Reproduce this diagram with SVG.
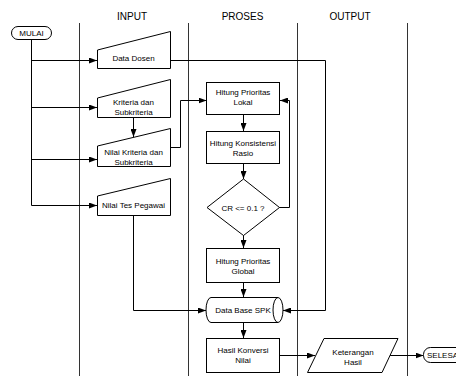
<svg xmlns="http://www.w3.org/2000/svg" width="456" height="376" viewBox="0 0 456 376">
<defs>
<marker id="arr" viewBox="0 0 8 6" refX="8" refY="3" markerWidth="8" markerHeight="6" markerUnits="userSpaceOnUse" orient="auto">
<path d="M0,0 L8,3 L0,6 Z" fill="#000"/>
</marker>
<style>
.s{fill:#fff;stroke:#000;stroke-width:1}
.t{font-family:"Liberation Sans",Arial,sans-serif;font-size:8px;fill:#000;text-anchor:middle}
.h{font-family:"Liberation Sans",Arial,sans-serif;font-size:10px;fill:#000;text-anchor:middle}
.l{fill:none;stroke:#000;stroke-width:1}
.a{fill:none;stroke:#000;stroke-width:1;marker-end:url(#arr)}
.lane{stroke:#333;stroke-width:1}
</style>
</defs>
<rect width="456" height="376" fill="#fff"/>
<g id="lanes">
<line class="lane" x1="79.5" y1="23" x2="79.5" y2="376"/>
<line class="lane" x1="188.5" y1="23" x2="188.5" y2="376"/>
<line class="lane" x1="297.5" y1="23" x2="297.5" y2="376"/>
<line class="lane" x1="407.5" y1="23" x2="407.5" y2="376"/>
<text class="h" x="132" y="19.5">INPUT</text>
<text class="h" x="242.5" y="19.5">PROSES</text>
<text class="h" x="350" y="19.5">OUTPUT</text>
</g>
<g id="connectors">
<path class="l" d="M31.5,39 V205.5"/>
<path class="a" d="M31.5,60.5 H97"/>
<path class="a" d="M31.5,107.5 H97"/>
<path class="a" d="M31.5,159.5 H97"/>
<path class="a" d="M31.5,205.5 H97"/>
<path class="a" d="M133.5,117 V137"/>
<path class="a" d="M170,147.5 H180.5 V100.5 H206.5"/>
<path class="a" d="M243.5,114 V131"/>
<path class="a" d="M243.5,163 V179"/>
<path class="a" d="M279,207.5 H289.5 V100.5 H280"/>
<path class="a" d="M243.5,235 V248"/>
<path class="a" d="M243.5,283 V297"/>
<path class="a" d="M243.5,322 V338"/>
<path class="a" d="M170,60.5 H325.5 V310.5 H283"/>
<path class="a" d="M133.5,215 V310.5 H206"/>
<path class="a" d="M280,355.5 H315"/>
<path class="a" d="M390,355.5 H423.5"/>
</g>
<g id="mulai">
<rect class="s" x="11.5" y="26.5" width="40" height="13" rx="6.5"/>
<text class="t" x="31.5" y="35.5">MULAI</text>
</g>
<g id="data-dosen">
<path class="s" d="M97.5,50 L170.5,31.5 V68.5 H97.5 Z"/>
<text class="t" x="133.5" y="61">Data Dosen</text>
</g>
<g id="kriteria">
<path class="s" d="M97.5,98 L170.5,79.5 V117.5 H97.5 Z"/>
<text class="t" x="133.5" y="105">Kriteria dan</text>
<text class="t" x="133.5" y="115">Subkriteria</text>
</g>
<g id="nilai-kriteria">
<path class="s" d="M97.5,146 L170.5,128.5 V166.5 H97.5 Z"/>
<text class="t" x="133.5" y="155">Nilai Kriteria dan</text>
<text class="t" x="133.5" y="165">Subkriteria</text>
</g>
<g id="nilai-tes">
<path class="s" d="M97.5,196 L170.5,178.5 V215.5 H97.5 Z"/>
<text class="t" x="133.5" y="208">Nilai Tes Pegawai</text>
</g>
<g id="prioritas-lokal">
<rect class="s" x="206.5" y="82.5" width="73" height="32"/>
<text class="t" x="243" y="95">Hitung Prioritas</text>
<text class="t" x="243" y="105">Lokal</text>
</g>
<g id="konsistensi">
<rect class="s" x="206.5" y="131.5" width="73" height="32"/>
<text class="t" x="243" y="146">Hitung Konsistensi</text>
<text class="t" x="243" y="156">Rasio</text>
</g>
<g id="cr">
<path class="s" d="M243.5,179 L279.5,207.5 L243.5,235.5 L207,207.5 Z"/>
<text class="t" x="243" y="210.5">CR &lt;= 0.1 ?</text>
</g>
<g id="prioritas-global">
<rect class="s" x="206.5" y="248.5" width="73" height="34"/>
<text class="t" x="243" y="264">Hitung Prioritas</text>
<text class="t" x="243" y="274">Global</text>
</g>
<g id="database">
<path class="s" d="M211,297.5 H278 A5,12.5 0 0 1 278,322.5 H211 A5,12.5 0 0 1 211,297.5 Z"/>
<path class="l" d="M278,297.5 A5,12.5 0 0 0 278,322.5"/>
<text class="t" x="243" y="313">Data Base SPK</text>
</g>
<g id="hasil-konversi">
<rect class="s" x="206.5" y="338.5" width="73" height="34"/>
<text class="t" x="243" y="353">Hasil Konversi</text>
<text class="t" x="243" y="363">Nilai</text>
</g>
<g id="keterangan">
<path class="s" d="M324,338.5 H398 L382,372.5 H307.5 Z"/>
<text class="t" x="353" y="355">Keterangan</text>
<text class="t" x="353" y="365">Hasil</text>
</g>
<g id="selesai">
<rect class="s" x="423.5" y="347.5" width="44" height="15" rx="7"/>
<text class="t" x="427" y="358" style="text-anchor:start">SELESAI</text>
</g>
</svg>
